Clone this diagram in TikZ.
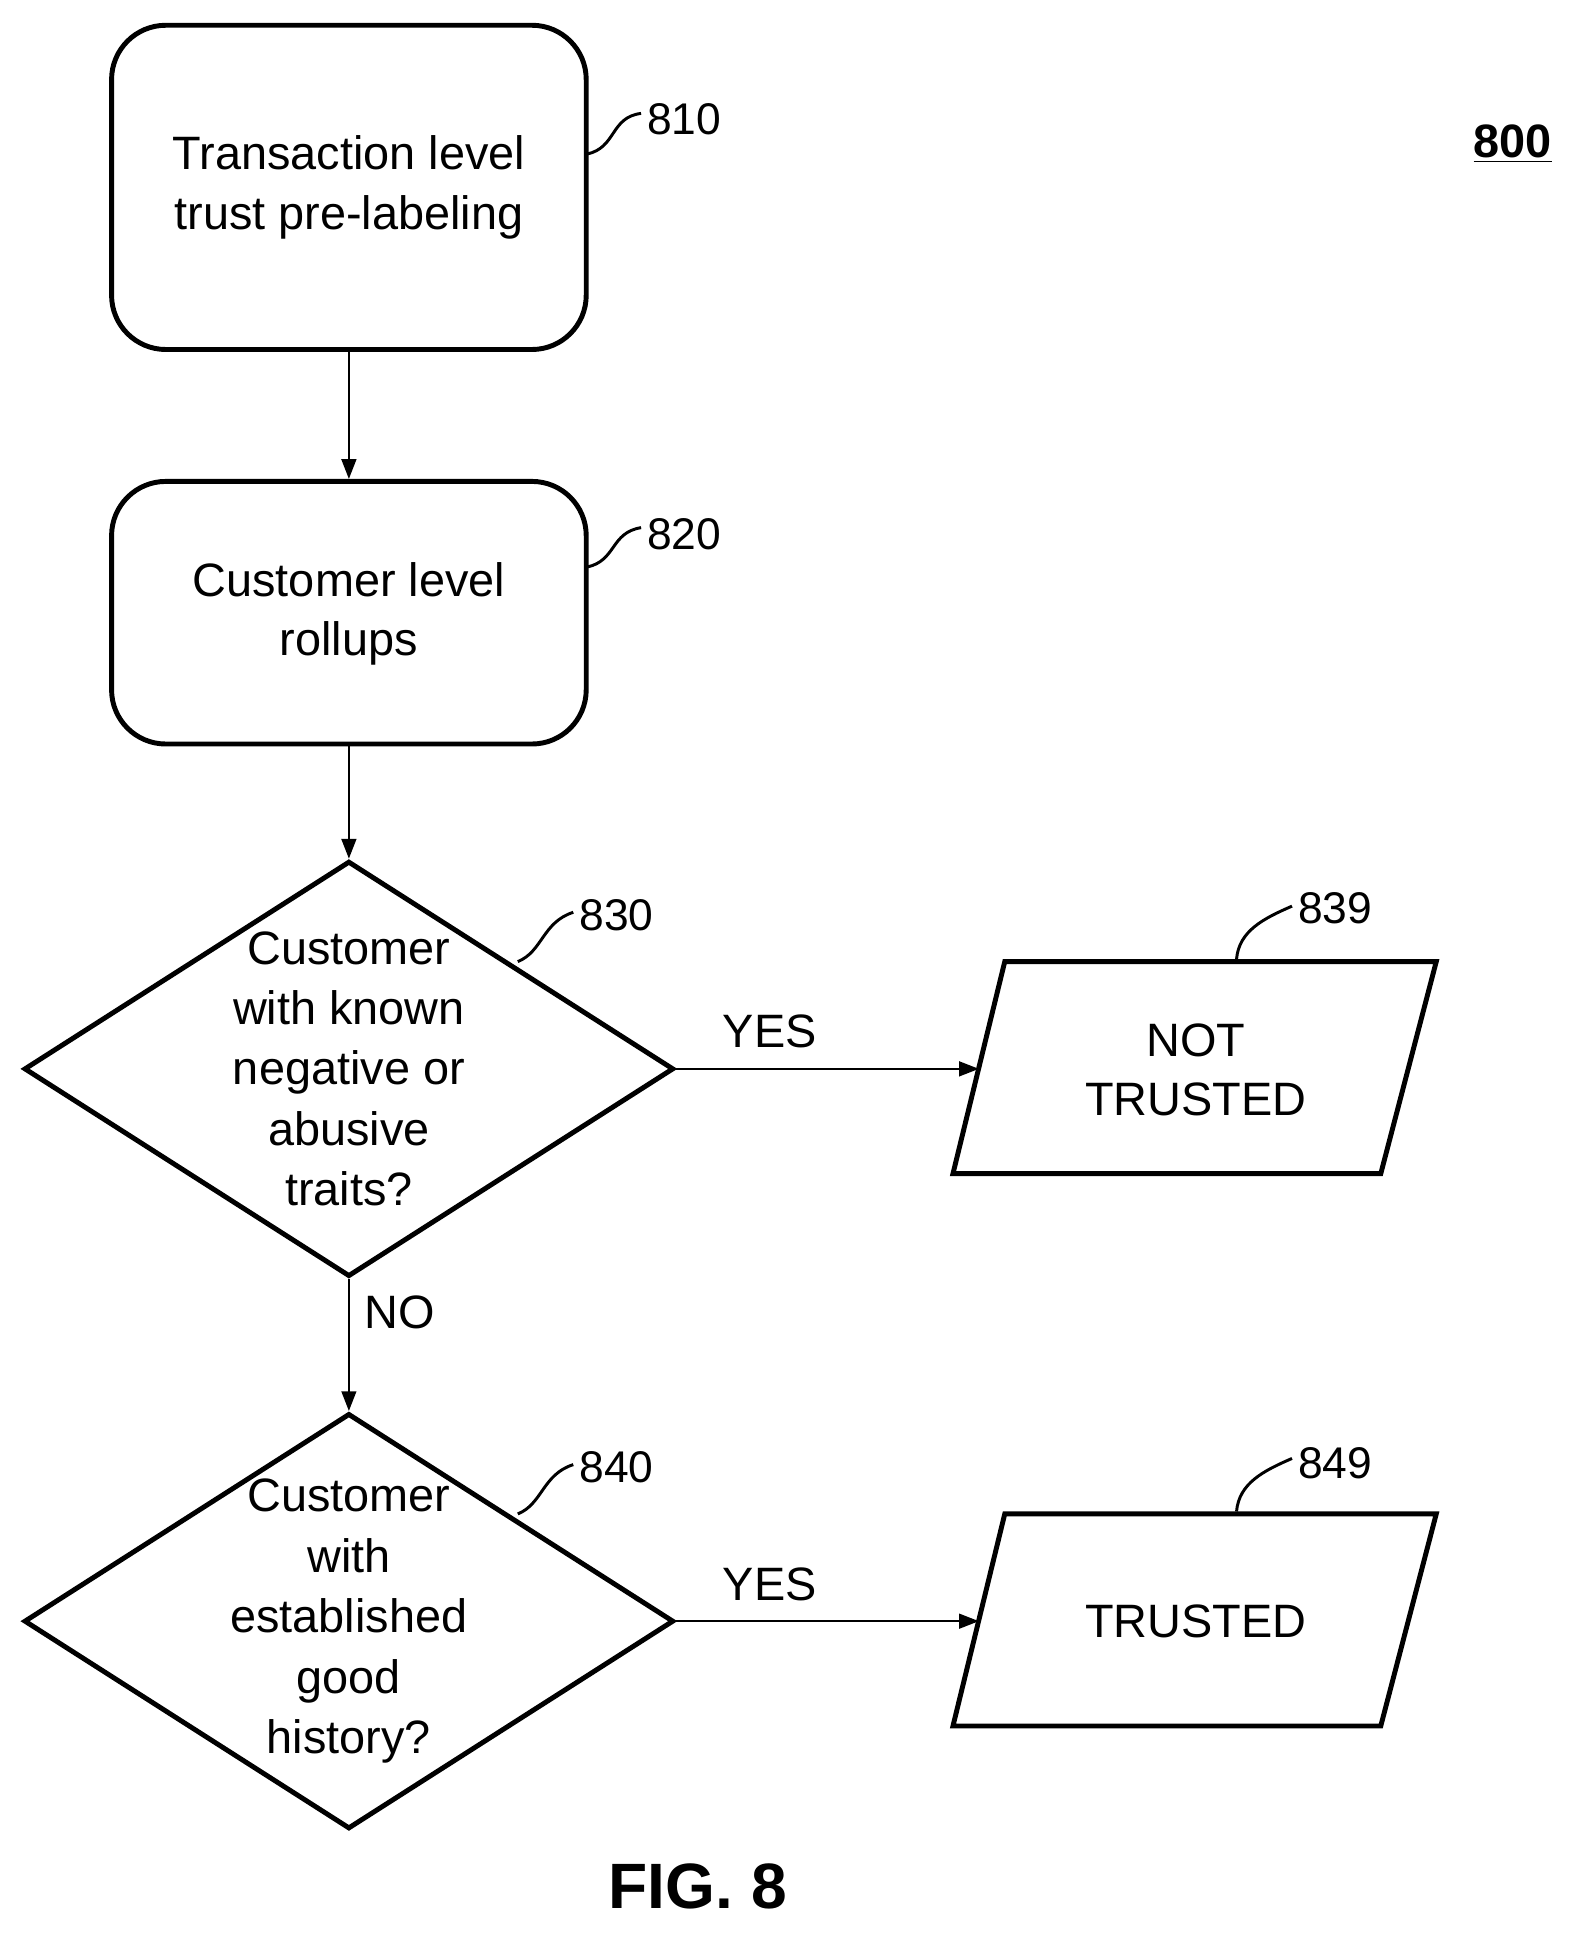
\documentclass[tikz,border=0pt]{standalone}
\usepackage{fontspec}
\setmainfont{Liberation Sans}
\usetikzlibrary{shapes.geometric,arrows.meta}
\begin{document}
\begin{tikzpicture}[x=0.5pt,y=-0.5pt,
  txt/.style={font=\fontsize{19}{24}\selectfont,align=center,inner sep=0},
  lbl/.style={font=\fontsize{18}{22}\selectfont,inner sep=0},
  box/.style={draw,line width=2pt,rounded corners=22pt,inner sep=0},
  dia/.style={draw,line width=2pt,diamond,inner sep=0,minimum width=263.5pt,minimum height=168.5pt},
  io/.style={draw,line width=2pt,line join=miter},
  arr/.style={-{Triangle[length=8pt,width=6pt]},line width=0.8pt},
  sq/.style={line width=1.2pt}]
\useasboundingbox (0,0) rectangle (1280,1572);
\node[box,minimum width=192.5pt,minimum height=131.5pt] (b810) at (283,152) {};
\node[txt] at (283,152) {Transaction level\\trust pre-labeling};
\node[box,minimum width=192.5pt,minimum height=106.5pt] (b820) at (283,497) {};
\node[txt] at (283,498) {Customer level\\rollups};
\node[dia] (d830) at (283,867) {};
\node[txt,font=\fontsize{19}{24.5}\selectfont] at (283,867) {Customer\\with known\\negative or\\abusive\\traits?};
\node[dia] (d840) at (283,1315) {};
\node[txt,font=\fontsize{19}{24.5}\selectfont] at (283,1315) {Customer\\with\\established\\good\\history?};
\draw[io] (815,780) -- (1165,780) -- (1120,952) -- (773,952) -- cycle;
\coordinate (p839) at (794,867);
\node[txt] (t839) at (970,868) {NOT\\TRUSTED};
\draw[io] (815,1228) -- (1165,1228) -- (1120,1400) -- (773,1400) -- cycle;
\coordinate (p849) at (794,1315);
\node[txt] (t849) at (970,1315) {TRUSTED};
\draw[arr] (b810.south) -- (b820.north);
\draw[arr] (b820.south) -- (d830.north);
\draw[arr] (d830.east) -- node[txt,pos=0.2,anchor=south west,yshift=8pt,xshift=-6pt]{YES} (p839);
\draw[arr] (d830.south) -- node[txt,anchor=west,xshift=6pt,pos=0.25]{NO} (d840.north);
\draw[arr] (d840.east) -- node[txt,pos=0.2,anchor=south west,yshift=8pt,xshift=-6pt]{YES} (p849);
\node[lbl] (l810) at (555,97) {810};
\node[lbl] (l820) at (555,433) {820};
\node[lbl] (l830) at (500,742) {830};
\node[lbl] (l840) at (500,1190) {840};
\node[lbl] (l839) at (1083,737) {839};
\node[lbl] (l849) at (1083,1187) {849};
\draw[sq] (476,125) .. controls (500,120) and (495,95) .. (520,92);
\draw[sq] (476,460) .. controls (500,455) and (495,432) .. (520,428);
\draw[sq] (420,780) .. controls (440,772) and (440,748) .. (465,740);
\draw[sq] (420,1228) .. controls (440,1220) and (440,1196) .. (465,1188);
\draw[sq] (1003,778) .. controls (1005,755) and (1025,745) .. (1048,735);
\draw[sq] (1003,1226) .. controls (1005,1203) and (1025,1193) .. (1048,1183);
\node[font=\fontsize{19}{22}\selectfont\bfseries,inner sep=0] (n800) at (1227,117) {\underline{800}};
\node[font=\fontsize{26}{30}\selectfont\bfseries,inner sep=0] (fig) at (566,1530) {FIG. 8};
\end{tikzpicture}
\end{document}
